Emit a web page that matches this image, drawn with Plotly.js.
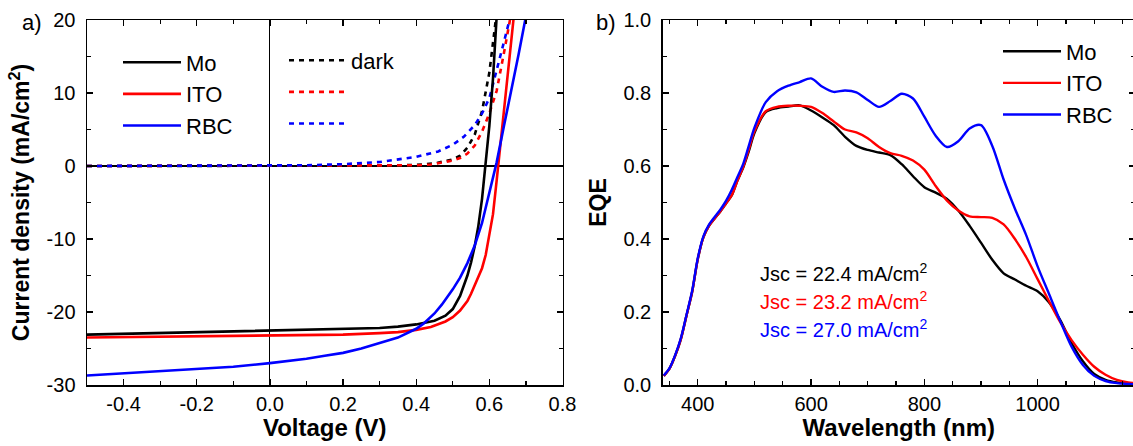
<!DOCTYPE html>
<html><head><meta charset="utf-8">
<script src="https://cdn.plot.ly/plotly-3.0.1.min.js"></script>
<style>html,body{margin:0;padding:0;overflow:hidden;background:#fff}#chart{width:1136px;height:446px}</style>
</head><body><div id="chart"></div>
<script>
// ---- J-V data (panel a) ----
const moV  = [-0.5,-0.4,-0.3,-0.2,-0.1,0,0.1,0.2,0.3,0.35,0.4,0.45,0.48,0.5,0.52,0.54,0.55,0.56,0.57,0.58,0.59,0.6,0.61,0.62];
const moJ  = [-23.1,-23.0,-22.9,-22.8,-22.7,-22.5,-22.45,-22.4,-22.2,-22.0,-21.7,-21.2,-20.5,-19.6,-17.8,-15.0,-13.2,-11.0,-8.2,-4.5,0.3,5.5,12.0,20.5];
const itoV = [-0.5,-0.4,-0.3,-0.2,-0.1,0,0.1,0.2,0.3,0.35,0.4,0.44,0.48,0.5,0.52,0.54,0.55,0.56,0.57,0.58,0.59,0.6,0.61,0.62,0.63,0.64,0.65,0.66,0.67];
const itoJ = [-23.5,-23.45,-23.4,-23.35,-23.25,-23.2,-23.15,-23.1,-22.9,-22.75,-22.45,-22.05,-21.3,-20.7,-19.8,-18.5,-17.5,-16.4,-15.2,-14.0,-12.2,-9.6,-6.6,-2.0,2.8,8.0,13.0,17.8,22.0];
const rbcV = [-0.5,-0.4,-0.3,-0.2,-0.1,0,0.05,0.1,0.15,0.2,0.25,0.3,0.35,0.4,0.42,0.45,0.47,0.5,0.52,0.54,0.56,0.58,0.6,0.62,0.64,0.66,0.68,0.7];
const rbcJ = [-28.7,-28.4,-28.15,-27.9,-27.5,-27.0,-26.75,-26.4,-26.0,-25.6,-25.0,-24.3,-23.5,-22.3,-21.6,-20.2,-19.0,-16.9,-15.3,-13.3,-10.9,-7.8,-3.7,0.5,5.5,10.3,15.3,20.5];
// dark curves
const moDarkV  = [-0.5,0,0.2,0.3,0.4,0.45,0.5,0.52,0.54,0.56,0.58,0.6,0.62];
const moDarkJ  = [0,0,0.02,0.05,0.15,0.35,0.9,1.4,2.5,4.3,7.5,12.8,21];
const itoDarkV = [-0.5,0,0.2,0.3,0.4,0.44,0.48,0.5,0.52,0.54,0.56,0.58,0.6,0.62,0.64,0.66];
const itoDarkJ = [0,0,0.01,0.03,0.1,0.2,0.5,0.75,1.1,1.7,2.8,4.7,7.2,10.3,15.5,21];
const rbcDarkV = [-0.5,-0.2,0,0.1,0.2,0.3,0.4,0.46,0.5,0.53,0.56,0.58,0.6,0.62,0.64,0.66];
const rbcDarkJ = [0,0.02,0.05,0.1,0.25,0.55,1.25,2.0,2.9,4.0,5.6,7.2,9.3,13.0,17.0,21];

// tick labels (hyphen minus as in the reference)
const vTickVals = [-0.4,-0.2,0,0.2,0.4,0.6,0.8];
const vTickText = ['-0.4','-0.2','0.0','0.2','0.4','0.6','0.8'];
const jTickVals = [-30,-20,-10,0,10,20];
const jTickText = ['-30','-20','-10','0','10','20'];

// ---- EQE data (panel b) ----
const wl = [340,350,360,370,380,390,400,410,420,430,440,450,460,470,480,490,500,520,540,560,580,600,620,640,660,680,700,720,740,760,780,800,820,840,860,880,900,920,940,960,980,1000,1020,1040,1060,1080,1100,1120,1140,1160,1180];
const eqeMo  = [0.025,0.045,0.08,0.125,0.19,0.255,0.345,0.405,0.437,0.457,0.476,0.498,0.52,0.56,0.595,0.64,0.69,0.748,0.759,0.763,0.766,0.752,0.733,0.712,0.68,0.655,0.644,0.637,0.63,0.605,0.572,0.542,0.527,0.51,0.478,0.436,0.39,0.343,0.306,0.289,0.272,0.257,0.227,0.178,0.115,0.065,0.03,0.014,0.007,0.004,0.002];
const eqeITO = [0.025,0.045,0.08,0.125,0.19,0.255,0.345,0.405,0.437,0.457,0.476,0.498,0.52,0.56,0.597,0.645,0.695,0.75,0.762,0.765,0.765,0.762,0.745,0.722,0.70,0.692,0.676,0.652,0.635,0.628,0.615,0.59,0.545,0.505,0.478,0.462,0.46,0.458,0.44,0.40,0.35,0.29,0.23,0.172,0.123,0.083,0.05,0.028,0.014,0.007,0.004];
const eqeRBC = [0.026,0.046,0.082,0.128,0.192,0.258,0.348,0.408,0.44,0.461,0.481,0.505,0.535,0.57,0.605,0.655,0.705,0.775,0.805,0.82,0.83,0.84,0.817,0.803,0.807,0.802,0.781,0.762,0.778,0.798,0.785,0.735,0.683,0.652,0.668,0.703,0.712,0.655,0.563,0.483,0.41,0.325,0.25,0.175,0.105,0.055,0.025,0.011,0.005,0.003,0.002];

const jscTexts = ['Jsc = 22.4 mA/cm<sup>2</sup>','Jsc = 23.2 mA/cm<sup>2</sup>','Jsc = 27.0 mA/cm<sup>2</sup>'];
const jscY = [0.309, 0.231, 0.154];

const names = ['Mo','ITO','RBC'];
const colors = ['#000000','#ff0000','#0000ff'];
const FONT = '"Liberation Sans", Arial, Helvetica, sans-serif';

const traces = [];
const darkV = [moDarkV, itoDarkV, rbcDarkV], darkJ = [moDarkJ, itoDarkJ, rbcDarkJ];
const lightV = [moV, itoV, rbcV], lightJ = [moJ, itoJ, rbcJ];
const darkNames = ['dark','\u00a0','\u00a0'];
for (let i = 0; i < 3; i++) {
  traces.push({x: darkV[i], y: darkJ[i], mode: 'lines', name: darkNames[i], legend: 'legend2',
    line: {color: colors[i], width: 2.6, dash: '5px,5px'}, xaxis: 'x', yaxis: 'y'});
}
for (let i = 0; i < 3; i++) {
  traces.push({x: lightV[i], y: lightJ[i], mode: 'lines', name: names[i], legend: 'legend',
    line: {color: colors[i], width: 2.6}, xaxis: 'x', yaxis: 'y'});
}
const eqes = [eqeMo, eqeITO, eqeRBC];
for (let i = 0; i < 3; i++) {
  traces.push({x: wl, y: eqes[i], mode: 'lines', name: names[i], legend: 'legend3',
    line: {color: colors[i], width: 2.4, shape: 'spline', smoothing: 0.8}, xaxis: 'x2', yaxis: 'y2'});
}

const minorTicks = (dt) => ({tickmode: 'linear', tick0: 0, dtick: dt, ticklen: 4, tickcolor: '#000', tickwidth: 1.3, ticks: 'inside'});
const axisCommon = {
  showline: true, linecolor: '#000', linewidth: 1.5, mirror: 'ticks',
  ticks: 'inside', ticklen: 6, tickwidth: 1.3, tickcolor: '#000',
  showgrid: false, tickfont: {family: FONT, size: 20, color: '#000'},
  zeroline: false, automargin: false
};
const W = 1136, L = 87, R = 1, T = 19.5, PH = 365.3;
const pw = W - L - R;
const px = (v) => (v - L) / pw;
const py = (v) => 1 - (v - T) / PH;
const legendBase = {xanchor: 'left', yanchor: 'top', bgcolor: 'rgba(0,0,0,0)', borderwidth: 0,
  font: {family: FONT, size: 22, color: '#000'}, tracegroupgap: 0};
const layout = {
  width: W, height: 446,
  margin: {l: L, r: R, t: T, b: 446 - T - PH},
  paper_bgcolor: '#fff', plot_bgcolor: '#fff',
  font: {family: FONT, color: '#000'},
  xaxis: Object.assign({}, axisCommon, {
    domain: [0, px(562.5)], range: [-0.5, 0.8], tickmode: 'array', tickvals: vTickVals, ticktext: vTickText,
    minor: minorTicks(0.1),
    zeroline: true, zerolinecolor: '#000', zerolinewidth: 1.2,
    ticklabelstandoff: 0,
    title: {text: '<b>Voltage (V)</b>', font: {family: FONT, size: 24, color: '#000'}, standoff: 0}
  }),
  yaxis: Object.assign({}, axisCommon, {
    range: [-30, 20], tickmode: 'array', tickvals: jTickVals, ticktext: jTickText, anchor: 'x',
    minor: minorTicks(5),
    zeroline: true, zerolinecolor: '#000', zerolinewidth: 1.2,
    ticklabelstandoff: 6,
    title: {text: '<b>Current density (mA/cm<sup>2</sup>)</b>', font: {family: FONT, size: 23, color: '#000'}, standoff: 10}
  }),
  xaxis2: Object.assign({}, axisCommon, {
    domain: [px(662.7), 1], range: [338, 1172], dtick: 200, tick0: 0, anchor: 'y2',
    minor: minorTicks(50),
    ticklabelstandoff: 0,
    title: {text: '<b>Wavelength (nm)</b>', font: {family: FONT, size: 24, color: '#000'}, standoff: 0}
  }),
  yaxis2: Object.assign({}, axisCommon, {
    range: [0, 1], dtick: 0.2, tickformat: '.1f', anchor: 'x2',
    minor: minorTicks(0.1),
    ticklabelstandoff: 6,
    title: {text: '<b>EQE</b>', font: {family: FONT, size: 23, color: '#000'}, standoff: 10}
  }),
  showlegend: true,
  legend: Object.assign({}, legendBase, {x: px(118), y: py(41), itemwidth: 58}),
  legend2: Object.assign({}, legendBase, {x: px(284), y: py(39), itemwidth: 57}),
  legend3: Object.assign({}, legendBase, {x: px(998), y: py(30), itemwidth: 58}),
  annotations: [
    {xref: 'paper', yref: 'paper', x: px(20), y: py(22), xanchor: 'left', yanchor: 'middle',
     text: 'a)', showarrow: false, font: {family: FONT, size: 22, color: '#000'}},
    {xref: 'paper', yref: 'paper', x: px(594), y: py(22), xanchor: 'left', yanchor: 'middle',
     text: 'b)', showarrow: false, font: {family: FONT, size: 22, color: '#000'}}
  ]
};
for (let i = 0; i < 3; i++) {
  layout.annotations.push({xref: 'x2', yref: 'y2', x: 506, y: jscY[i], xanchor: 'left', yanchor: 'middle',
    text: jscTexts[i], showarrow: false, font: {family: FONT, size: 20, color: colors[i]}});
}
Plotly.newPlot('chart', traces, layout, {displayModeBar: false, staticPlot: true});
</script></body></html>
